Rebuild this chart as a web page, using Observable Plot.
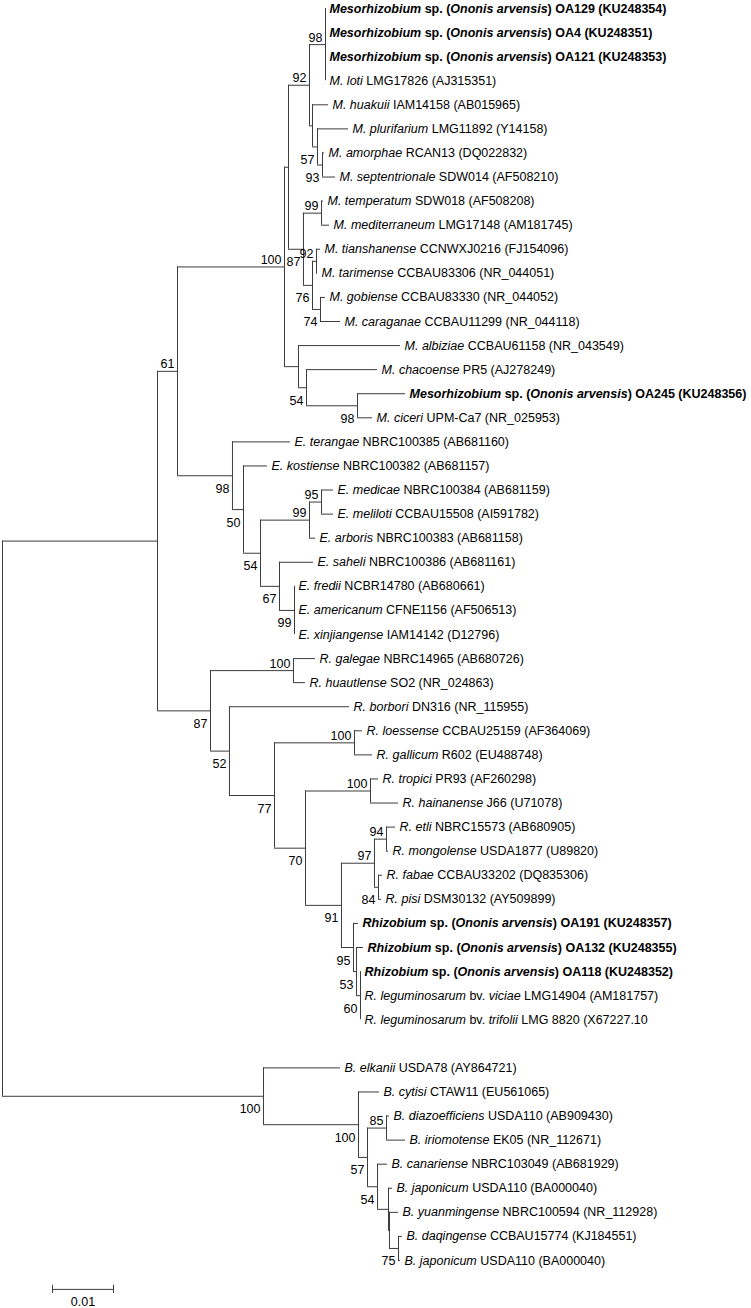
<!DOCTYPE html>
<html>
<head>
<meta charset="utf-8">
<script src="https://cdn.jsdelivr.net/npm/d3@7"></script>
<script src="https://cdn.jsdelivr.net/npm/@observablehq/plot@0.6"></script>
<style>
  html, body { margin: 0; padding: 0; background: #fff; }
  svg { display: block; }
</style>
</head>
<body>
<div id="chart"></div>
<script>
// Internal nodes: [id, parent id, distance from root (substitutions/site), bootstrap]
const internalNodes = [
  ["root", null, 0, ""],
  ["A", "root", 0.02541, ""],
  ["n61", "A", 0.02869, "61"],
  ["m0", "n61", 0.04623, "100"],
  ["m1", "m0", 0.04689, ""],
  ["n92", "m1", 0.05033, "92"],
  ["n98a", "n92", 0.05295, "98"],
  ["nhua", "n92", 0.05082, ""],
  ["n57", "nhua", 0.05164, "57"],
  ["n93", "n57", 0.05246, "93"],
  ["n87m", "m1", 0.04934, "87"],
  ["n99m", "n87m", 0.05230, "99"],
  ["n76", "n87m", 0.05082, "76"],
  ["n92b", "n76", 0.05148, "92"],
  ["n74", "n76", 0.05213, "74"],
  ["m2", "m0", 0.04852, ""],
  ["n54m", "m2", 0.04984, "54"],
  ["n98b", "n54m", 0.05820, "98"],
  ["n98e", "n61", 0.03770, "98"],
  ["n50", "n98e", 0.03951, "50"],
  ["n54e", "n50", 0.04230, "54"],
  ["n99e", "n54e", 0.05033, "99"],
  ["n95e", "n99e", 0.05230, "95"],
  ["n67", "n54e", 0.04541, "67"],
  ["n99c", "n67", 0.04787, "99"],
  ["n87", "A", 0.03410, "87"],
  ["n100r", "n87", 0.04770, "100"],
  ["n52", "n87", 0.03721, "52"],
  ["n77", "n52", 0.04459, "77"],
  ["n100l", "n77", 0.05770, "100"],
  ["n70", "n77", 0.04967, "70"],
  ["n100t", "n70", 0.06033, "100"],
  ["n91", "n70", 0.05557, "91"],
  ["n97", "n91", 0.06098, "97"],
  ["n94", "n97", 0.06295, "94"],
  ["n84", "n97", 0.06164, "84"],
  ["n95r", "n91", 0.05754, "95"],
  ["n53", "n95r", 0.05803, "53"],
  ["n60", "n53", 0.05869, "60"],
  ["nb100", "root", 0.04279, "100"],
  ["nb100b", "nb100", 0.05836, "100"],
  ["n57b", "nb100b", 0.05984, "57"],
  ["n85", "n57b", 0.06295, "85"],
  ["n54b", "n57b", 0.06148, "54"],
  ["nx", "n54b", 0.06328, ""],
  ["ny", "nx", 0.06344, ""],
  ["n75", "ny", 0.06492, "75"]
];

// Leaves, top to bottom. [..] = italic
const leafLabels = [
  "[Mesorhizobium] sp. ([Ononis arvensis]) OA129 (KU248354)",
  "[Mesorhizobium] sp. ([Ononis arvensis]) OA4 (KU248351)",
  "[Mesorhizobium] sp. ([Ononis arvensis]) OA121 (KU248353)",
  "[M. loti] LMG17826 (AJ315351)",
  "[M. huakuii] IAM14158 (AB015965)",
  "[M. plurifarium] LMG11892 (Y14158)",
  "[M. amorphae] RCAN13 (DQ022832)",
  "[M. septentrionale] SDW014 (AF508210)",
  "[M. temperatum] SDW018 (AF508208)",
  "[M. mediterraneum] LMG17148 (AM181745)",
  "[M. tianshanense] CCNWXJ0216 (FJ154096)",
  "[M. tarimense] CCBAU83306 (NR_044051)",
  "[M. gobiense] CCBAU83330 (NR_044052)",
  "[M. caraganae] CCBAU11299 (NR_044118)",
  "[M. albiziae] CCBAU61158 (NR_043549)",
  "[M. chacoense] PR5 (AJ278249)",
  "[Mesorhizobium] sp. ([Ononis arvensis]) OA245 (KU248356)",
  "[M. ciceri] UPM-Ca7 (NR_025953)",
  "[E. terangae] NBRC100385 (AB681160)",
  "[E. kostiense] NBRC100382 (AB681157)",
  "[E. medicae] NBRC100384 (AB681159)",
  "[E. meliloti] CCBAU15508 (AI591782)",
  "[E. arboris] NBRC100383 (AB681158)",
  "[E. saheli] NBRC100386 (AB681161)",
  "[E. fredii] NCBR14780 (AB680661)",
  "[E. americanum] CFNE1156 (AF506513)",
  "[E. xinjiangense] IAM14142 (D12796)",
  "[R. galegae] NBRC14965 (AB680726)",
  "[R. huautlense] SO2 (NR_024863)",
  "[R. borbori] DN316 (NR_115955)",
  "[R. loessense] CCBAU25159 (AF364069)",
  "[R. gallicum] R602 (EU488748)",
  "[R. tropici] PR93 (AF260298)",
  "[R. hainanense] J66 (U71078)",
  "[R. etli] NBRC15573 (AB680905)",
  "[R. mongolense] USDA1877 (U89820)",
  "[R. fabae] CCBAU33202 (DQ835306)",
  "[R. pisi] DSM30132 (AY509899)",
  "[Rhizobium] sp. ([Ononis arvensis]) OA191 (KU248357)",
  "[Rhizobium] sp. ([Ononis arvensis]) OA132 (KU248355)",
  "[Rhizobium] sp. ([Ononis arvensis]) OA118 (KU248352)",
  "[R. leguminosarum] bv. [viciae] LMG14904 (AM181757)",
  "[R. leguminosarum] bv. [trifolii] LMG 8820 (X67227.10",
  "[B. elkanii] USDA78 (AY864721)",
  "[B. cytisi] CTAW11 (EU561065)",
  "[B. diazoefficiens] USDA110 (AB909430)",
  "[B. iriomotense] EK05 (NR_112671)",
  "[B. canariense] NBRC103049 (AB681929)",
  "[B. japonicum] USDA110 (BA000040)",
  "[B. yuanmingense] NBRC100594 (NR_112928)",
  "[B. daqingense] CCBAU15774 (KJ184551)",
  "[B. japonicum] USDA110 (BA000040)"
];

const leafParents = [
  "n98a","n98a","n98a","n98a","nhua","n57","n93","n93","n99m","n99m",
  "n92b","n92b","n74","n74","m2","n54m","n98b","n98b","n98e","n50",
  "n95e","n95e","n99e","n67","n99c","n99c","n99c","n100r","n100r","n52",
  "n100l","n100l","n100t","n100t","n94","n94","n84","n84","n95r","n53",
  "n60","n60","n60","nb100","nb100b","n85","n85","n54b","nx","ny",
  "n75","n75"
];

const leafDistances = [
  0.05295,0.05295,0.05295,0.05295,0.05344,0.05672,0.05279,0.05459,0.05262,0.05361,
  0.05213,0.05164,0.05295,0.05541,0.06525,0.06148,0.06607,0.06066,0.04721,0.04344,
  0.05426,0.05426,0.05131,0.05098,0.04787,0.04787,0.04787,0.05131,0.04967,0.05689,
  0.05902,0.06066,0.06164,0.06492,0.06443,0.06328,0.06230,0.06213,0.05836,0.05918,
  0.05869,0.05869,0.05869,0.05541,0.06180,0.06344,0.06607,0.06311,0.06393,0.06492,
  0.06557,0.06525
];

const boldLeaves = [0, 1, 2, 16, 38, 39, 40];
const groupBreakBefore = 43; // extra gap before the Bradyrhizobium clade

const scaleBarLength = 0.01;
const scaleBarLabel = "0.01";

// ---- build tree ----
const nodes = new Map();
for (const [id, parent, x, boot] of internalNodes) {
  nodes.set(id, {id, parent, x, boot, children: [], leaf: false});
}
leafLabels.forEach((label, i) => {
  nodes.set("leaf" + i, {
    id: "leaf" + i, parent: leafParents[i], x: leafDistances[i], children: [],
    leaf: true, label, plain: label.replace(/[\[\]]/g, ""),
    bold: boldLeaves.includes(i), row: i + (i >= groupBreakBefore ? 1 : 0)
  });
});
for (const n of nodes.values()) if (n.parent) nodes.get(n.parent).children.push(n);

function layout(n) {
  if (n.leaf) { n.y = n.row; return n.y; }
  const ys = n.children.map(layout);
  n.ymin = Math.min(...ys); n.ymax = Math.max(...ys);
  n.y = (n.ymin + n.ymax) / 2;
  return n.y;
}
layout(nodes.get("root"));

const all = [...nodes.values()];
const horizontal = all.filter(n => n.parent).map(n => ({x1: nodes.get(n.parent).x, x2: n.x, y: n.y}));
const vertical = all.filter(n => !n.leaf).map(n => ({x: n.x, y1: n.ymin, y2: n.ymax}));
const leaves = all.filter(n => n.leaf);
const boots = all.filter(n => !n.leaf && n.boot);
const bootAbove = boots.filter(n => n.y < nodes.get(n.parent).y);
const bootBelow = boots.filter(n => n.y >= nodes.get(n.parent).y);

const sbStart = 0.0082, sbRow = 53.2;
const scaleBar = [{x1: sbStart, x2: sbStart + scaleBarLength, y: sbRow}];
const scaleTicks = [{x: sbStart}, {x: sbStart + scaleBarLength}];

const lineColor = "#3c3c3c";
const font = "'Liberation Sans', Arial, sans-serif";

const chart = Plot.plot({
  width: 751,
  height: 1308,
  marginLeft: 2,
  marginRight: 17,
  marginTop: 0,
  marginBottom: 0,
  x: {domain: [0, 0.12], axis: null},
  y: {domain: [0, 52], range: [8, 1260], axis: null},
  style: {fontFamily: font, fontSize: "12.5px", color: "#000", background: "#fff"},
  marks: [
    Plot.ruleY(horizontal, {x1: "x1", x2: "x2", y: "y", stroke: lineColor, strokeWidth: 1}),
    Plot.ruleX(vertical, {x: "x", y1: "y1", y2: "y2", stroke: lineColor, strokeWidth: 1}),
    Plot.text(leaves, {x: "x", y: "y", text: "plain", dx: 4, textAnchor: "start", fontSize: 12.5, fill: "#000"}),
    Plot.text(bootAbove, {x: "x", y: "y", text: "boot", dx: -3, dy: -7, textAnchor: "end", fontSize: 12.5, fill: "#000"}),
    Plot.text(bootBelow, {x: "x", y: "y", text: "boot", dx: -3, dy: 13, textAnchor: "end", fontSize: 12.5, fill: "#000"}),
    Plot.ruleY(scaleBar, {x1: "x1", x2: "x2", y: "y", stroke: lineColor, strokeWidth: 1}),
    Plot.ruleX(scaleTicks, {x: "x", y1: sbRow - 0.17, y2: sbRow + 0.17, stroke: lineColor, strokeWidth: 1}),
    Plot.text([scaleBarLabel], {x: sbStart + scaleBarLength / 2, y: sbRow, text: d => d, dy: 13, fontSize: 12.5, fill: "#000"})
  ]
});

// rich text (italic / bold) for leaf labels: match by text content
const byPlain = new Map(leaves.map(l => [l.plain, l]));
const SVGNS = "http://www.w3.org/2000/svg";
chart.querySelectorAll("text").forEach(t => {
  const leaf = byPlain.get(t.textContent);
  if (!leaf) return;
  while (t.firstChild) t.removeChild(t.firstChild);
  if (leaf.bold) t.setAttribute("font-weight", "bold");
  t.setAttribute("style", "white-space: pre");
  const parts = leaf.label.split(/(\[[^\]]*\])/).filter(s => s.length);
  for (const p of parts) {
    const ts = document.createElementNS(SVGNS, "tspan");
    if (p.startsWith("[")) { ts.textContent = p.slice(1, -1); ts.setAttribute("font-style", "italic"); }
    else ts.textContent = p;
    t.appendChild(ts);
  }
});

document.getElementById("chart").appendChild(chart);
</script>
</body>
</html>
